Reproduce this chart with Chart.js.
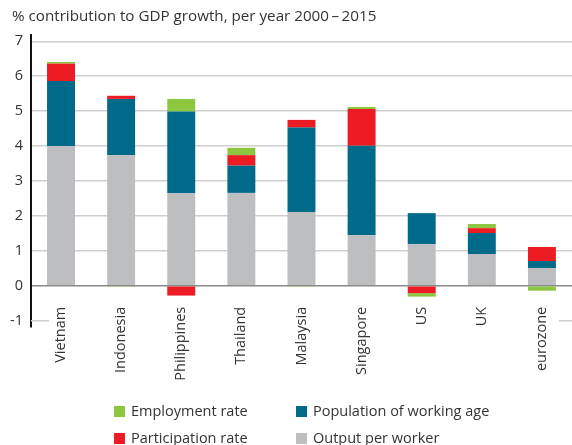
<!DOCTYPE html>
<html lang="en">
<head>
    <meta charset="UTF-8">
    <title>GDP growth contributions</title>
    <style>
        body {
            margin: 0;
            background: #fff;
            font-family: "Open Sans", sans-serif;
            color: #333;
        }

        #wrap {
            position: relative;
            width: 572px;
            height: 445px;
        }

        #title {
            position: absolute;
            left: 12px;
            top: 5px;
            font-size: 15.2px;
            white-space: nowrap;
        }

        .legend-item {
            position: absolute;
            font-size: 14.5px;
            line-height: 18px;
            white-space: nowrap;
        }

        .legend-item span {
            display: inline-block;
            width: 11px;
            height: 11px;
            margin-right: 6px;
            vertical-align: -1px;
        }
    </style>
    <script src="https://cdn.jsdelivr.net/npm/chart.js"></script>
</head>
<body>
    <div id="wrap">
        <canvas id="gdpChart" width="572" height="445"></canvas>
        <div id="title">% contribution to GDP growth, per year 2000&#8201;&#8211;&#8201;2015</div>
    </div>

    <script>
        // dados
        const countries = ["Vietnam", "Indonesia", "Philippines", "Thailand", "Malaysia", "Singapore", "US", "UK", "eurozone"];
        const outputPerWorker = [4.00, 3.74, 2.66, 2.66, 2.11, 1.45, 1.19, 0.91, 0.51];
        const workingAgePop = [1.86, 1.61, 2.33, 0.78, 2.42, 2.56, 0.89, 0.60, 0.20];
        const participationRate = [0.50, 0.09, -0.28, 0.30, 0.22, 1.05, -0.21, 0.14, 0.40];
        const employmentRate = [0.05, -0.03, 0.36, 0.21, -0.03, 0.06, -0.10, 0.12, -0.14];
        const yTicks = [-1, 0, 1, 2, 3, 4, 5, 6, 7];

        const seriesNames = ["Output per worker", "Population of working age", "Participation rate", "Employment rate"];
        const colors = ["#bcbec0", "#006a8a", "#ed1c24", "#8dc63f"];

        // legenda em grade 2x2, como no original
        const legendSpots = [
            { name: "Employment rate", color: colors[3], left: 114, top: 402 },
            { name: "Population of working age", color: colors[1], left: 296, top: 402 },
            { name: "Participation rate", color: colors[2], left: 114, top: 429 },
            { name: "Output per worker", color: colors[0], left: 296, top: 429 }
        ];
        legendSpots.forEach(item => {
            let div = document.createElement("div");
            div.className = "legend-item";
            div.style.left = item.left + "px";
            div.style.top = item.top + "px";
            div.innerHTML = `<span style="background:${item.color}"></span>${item.name}`;
            document.getElementById("wrap").appendChild(div);
        });

        // rótulos dos países logo abaixo do zero (passam por cima da área do gráfico)
        // e a linha do -1, que só aparece nas pontas
        const countryLabels = {
            id: "countryLabels",
            beforeDatasetsDraw(chart) {
                const ctx = chart.ctx;
                const x = chart.scales.x;
                const y = chart.scales.y;
                const yy = y.getPixelForValue(-1);
                ctx.save();
                ctx.strokeStyle = "#cfcfcf";
                ctx.lineWidth = 1.5;
                ctx.beginPath();
                ctx.moveTo(chart.chartArea.left, yy);
                ctx.lineTo(x.getPixelForValue(0) - 12, yy);
                ctx.moveTo(x.getPixelForValue(countries.length - 1) + 17, yy);
                ctx.lineTo(chart.chartArea.right, yy);
                ctx.stroke();
                ctx.restore();
            },
            afterDraw(chart) {
                const ctx = chart.ctx;
                const x = chart.scales.x;
                const top = chart.scales.y.getPixelForValue(0) + 21;
                ctx.save();
                ctx.fillStyle = "#333";
                ctx.font = "14.5px 'Open Sans'";
                ctx.textAlign = "right";
                ctx.textBaseline = "middle";
                countries.forEach((name, i) => {
                    ctx.save();
                    ctx.translate(x.getPixelForValue(i), top);
                    ctx.rotate(-Math.PI / 2);
                    ctx.fillText(name, 0, 0);
                    ctx.restore();
                });
                ctx.restore();
            }
        };

        const seriesData = [outputPerWorker, workingAgePop, participationRate, employmentRate];

        const ctx = document.getElementById("gdpChart").getContext("2d");
        new Chart(ctx, {
            type: "bar",
            data: {
                labels: countries,
                datasets: seriesData.map((vals, i) => ({
                    label: seriesNames[i],
                    data: vals,
                    backgroundColor: colors[i],
                    borderWidth: 0,
                    barPercentage: 0.465,
                    categoryPercentage: 1
                }))
            },
            options: {
                responsive: false,
                animation: false,
                layout: {
                    padding: { top: 35, left: 2, right: 0, bottom: 118 }
                },
                plugins: {
                    legend: { display: false },
                    tooltip: { enabled: false }
                },
                scales: {
                    x: {
                        stacked: true,
                        grid: { display: false, drawTicks: false },
                        border: { display: false },
                        ticks: { display: false }
                    },
                    y: {
                        stacked: true,
                        min: -1.18,
                        max: 7.18,
                        afterBuildTicks: scale => {
                            scale.ticks = yTicks.map(v => ({ value: v }));
                        },
                        grid: {
                            drawTicks: false,
                            lineWidth: 1.5,
                            color: c => c.tick.value === 0 ? "#8a8a8a" : (c.tick.value === -1 ? "rgba(0,0,0,0)" : "#cfcfcf")
                        },
                        border: { color: "#111", width: 2 },
                        ticks: {
                            padding: 8,
                            color: "#333",
                            font: { family: "Open Sans", size: 14.5 }
                        }
                    }
                }
            },
            plugins: [countryLabels]
        });
    </script>
</body>
</html>
